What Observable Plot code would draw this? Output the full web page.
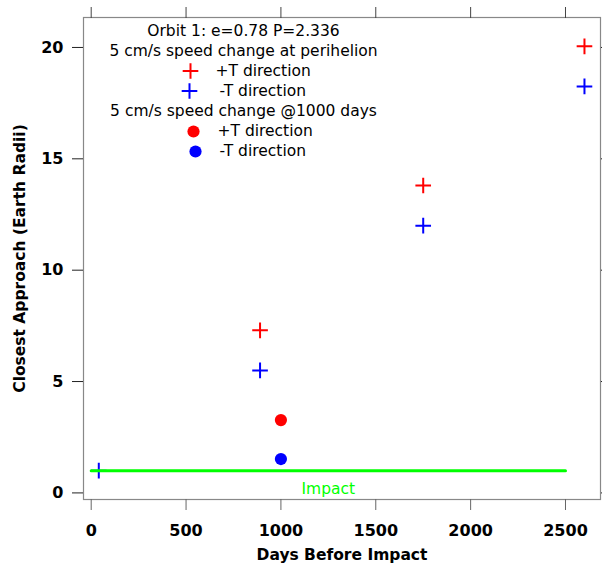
<!DOCTYPE html>
<html>
<head>
<meta charset="utf-8">
<script src="https://cdn.jsdelivr.net/npm/d3@7"></script>
<script src="https://cdn.jsdelivr.net/npm/@observablehq/plot@0.6"></script>
<style>
  html, body { margin: 0; padding: 0; background: #fff; }
  #chart svg { display: block; }
</style>
</head>
<body>
<div id="chart"></div>
<script>
// ---- Data ----
const title = "Orbit 1: e=0.78 P=2.336";
const perihelionHeader = "5 cm/s speed change at perihelion";
const day1000Header = "5 cm/s speed change @1000 days";
const plusLabel = "+T direction";
const minusLabel = "-T direction";

const perihelionDaysPlus = [890, 1750, 2600];
const perihelionPlusT = [7.3, 13.8, 20.05];
const perihelionDaysMinus = [40, 890, 1750, 2600];
const perihelionMinusT = [1.0, 5.5, 12.0, 18.25];

const day1000Days = [1000];
const day1000PlusT = [3.27];
const day1000MinusT = [1.52];

const impactDays = [0, 2500];
const impactLevel = 1;
const impactLabel = "Impact";

const xTicks = [0, 500, 1000, 1500, 2000, 2500];
const yTicks = [0, 5, 10, 15, 20];
const xLabel = "Days Before Impact";
const yLabel = "Closest Approach (Earth Radii)";

// ---- Build tables ----
const plusRed = perihelionDaysPlus.map((d, i) => ({days: d, ca: perihelionPlusT[i]}));
const plusBlue = perihelionDaysMinus.map((d, i) => ({days: d, ca: perihelionMinusT[i]}));
const dotRed = day1000Days.map((d, i) => ({days: d, ca: day1000PlusT[i]}));
const dotBlue = day1000Days.map((d, i) => ({days: d, ca: day1000MinusT[i]}));
const impactLine = impactDays.map(d => ({days: d, ca: impactLevel}));
const impactMid = [{days: d3.mean(impactDays), ca: impactLevel, label: impactLabel}];

const RED = "#ff0000", BLUE = "#0000ff", GREEN = "#00ff00";
const FONT = "DejaVu Sans, Verdana, sans-serif";

// legend rows
const legendRows = [
  {text: title, anchor: "middle", dx: 160},
  {text: perihelionHeader, anchor: "middle", dx: 160},
  {text: plusLabel, anchor: "start", dx: 132, sym: "plus", color: RED, sdx: 107},
  {text: minusLabel, anchor: "start", dx: 136, sym: "plus", color: BLUE, sdx: 106},
  {text: day1000Header, anchor: "middle", dx: 160},
  {text: plusLabel, anchor: "start", dx: 134, sym: "circle", color: RED, sdx: 110},
  {text: minusLabel, anchor: "start", dx: 136, sym: "circle", color: BLUE, sdx: 112}
];
const legendMarks = [];
legendRows.forEach((row, i) => {
  const rowY = 14 + 20 * i;
  legendMarks.push(Plot.text([row.text], {
    frameAnchor: "top-left", dx: row.dx, dy: rowY, textAnchor: row.anchor, lineAnchor: "middle",
    fontSize: 15.5, fontFamily: FONT, fill: "black"
  }));
  if (row.sym) {
    legendMarks.push(Plot.dot([0], {
      frameAnchor: "top-left", dx: row.sdx, dy: row.sym === "plus" ? rowY - 0.5 : rowY,
      symbol: row.sym,
      r: row.sym === "plus" ? 5.1 : 6.1,
      stroke: row.sym === "plus" ? row.color : "none",
      fill: row.sym === "plus" ? "none" : row.color,
      strokeWidth: 2
    }));
  }
});

const chart = Plot.plot({
  width: 602,
  height: 563,
  marginLeft: 83,
  marginRight: 2,
  marginTop: 17,
  marginBottom: 64,
  style: {fontFamily: FONT, background: "white", overflow: "visible"},
  x: {domain: [-40.6, 2684.5]},
  y: {domain: [-0.296, 21.345]},
  marks: [
    Plot.frame({stroke: "#888", strokeWidth: 1.2}),
    // bottom axis ticks + labels
    Plot.axisX({anchor: "bottom", ticks: xTicks, tickFormat: "d", tickSize: 11, tickPadding: 14, stroke: "#666",
      fontSize: 16, fontWeight: "bold", fill: "black", label: null}),
    Plot.axisX({anchor: "bottom", ticks: [], tickSize: 0, label: xLabel, labelAnchor: "center",
      labelArrow: "none", labelOffset: 60, fontSize: 15.5, fontWeight: "bold", fill: "black"}),
    Plot.axisX({anchor: "top", ticks: xTicks, tickSize: 11, stroke: "#444", fill: "none", label: null}),
    // left axis
    Plot.axisY({anchor: "left", ticks: yTicks, tickFormat: "d", tickSize: 11, tickPadding: 9, stroke: "#222",
      fontSize: 16, fontWeight: "bold", fill: "black", label: null}),
    Plot.axisY({anchor: "left", ticks: [], tickSize: 0, label: yLabel, labelAnchor: "center",
      labelArrow: "none", labelOffset: 70, fontSize: 15.5, fontWeight: "bold", fill: "black"}),
    Plot.axisY({anchor: "right", ticks: yTicks, tickSize: 11, stroke: "#222", fill: "none", label: null}),
    // data
    Plot.dot(plusRed, {x: "days", y: "ca", symbol: "plus", r: 5.1, stroke: RED, strokeWidth: 2}),
    Plot.dot(plusBlue, {x: "days", y: "ca", symbol: "plus", r: 5.1, stroke: BLUE, strokeWidth: 2}),
    Plot.dot(dotRed, {x: "days", y: "ca", r: 6.1, fill: RED}),
    Plot.dot(dotBlue, {x: "days", y: "ca", r: 6.1, fill: BLUE}),
    Plot.line(impactLine, {x: "days", y: "ca", stroke: GREEN, strokeWidth: 3}),
    Plot.text(impactMid, {x: "days", y: "ca", text: "label", fill: GREEN, fontSize: 15.5,
      fontFamily: FONT, lineAnchor: "top", dy: 12}),
    ...legendMarks
  ]
});
document.getElementById("chart").appendChild(chart);
</script>
</body>
</html>
